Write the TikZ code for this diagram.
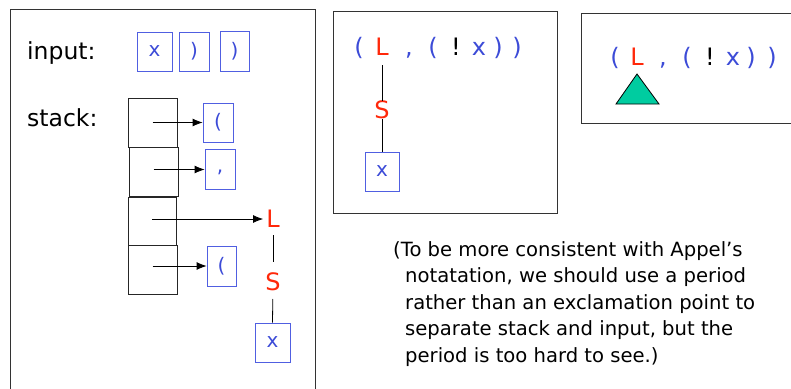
\documentclass[tikz,border=0pt]{standalone}
\usepackage{fontspec}
\setmainfont{DejaVu Sans}
\usetikzlibrary{arrows.meta}
\definecolor{tblue}{RGB}{60,75,215}
\definecolor{bblue}{RGB}{80,95,225}
\definecolor{tred}{RGB}{255,40,10}
\definecolor{teal}{RGB}{0,204,160}
\begin{document}
\begin{tikzpicture}[x=1pt,y=-1pt,
  frame/.style={draw=black!80,line width=0.9pt},
  tokbox/.style={draw=bblue,line width=0.8pt,text=tblue,inner sep=0pt,font=\fontsize{20}{20}\selectfont},
  cell/.style={draw=black!85,line width=0.9pt,minimum width=49pt,minimum height=49pt,inner sep=0pt},
  lbl/.style={font=\fontsize{23.5}{23.5}\selectfont,anchor=west,inner sep=0pt},
  sym/.style={inner sep=0pt,anchor=base,font=\fontsize{24}{24}\selectfont,text=tblue},
  red/.style={text=tred},
  arr/.style={-{Latex[length=10pt,width=8pt]},line width=0.8pt},
  conn/.style={line width=0.8pt}
]
\useasboundingbox (0,0) rectangle (791,388);
% left frame
\draw[frame] (10,9) -- (10,392) (315,392) -- (315,9) -- (10,9);
\node[lbl] (inlbl) at (27,53) {input:};
\node[lbl] (stlbl) at (27,118) {stack:};
\node[tokbox,minimum width=35pt,minimum height=39pt] (i1) at (154.5,51.5) {x};
\node[tokbox,minimum width=30pt,minimum height=39pt] (i2) at (194,51.5) {)};
\node[tokbox,minimum width=29pt,minimum height=40pt] (i3) at (234.5,51) {)};
\node[cell] (s1) at (152.5,122.5) {};
\node[cell] (s2) at (153.5,171.5) {};
\node[cell,minimum width=48pt,minimum height=48pt] (s3) at (152,221) {};
\node[cell] (s4) at (152.5,269.5) {};
\node[tokbox,minimum width=30pt,minimum height=39pt] (p1) at (218,122.5) {(};
\node[tokbox,minimum width=30pt,minimum height=40pt] (p2) at (220,169.5) {\raisebox{-9pt}{,}};
\node[tokbox,minimum width=29pt,minimum height=40pt] (p4) at (221.5,266) {(};
\node[sym,red,anchor=center] (L) at (273,219) {L};
\node[sym,red,anchor=center] (S) at (273,282) {S};
\node[tokbox,minimum width=35pt,minimum height=39pt] (x1) at (272.5,342.5) {x};
\draw[arr] (s1.center |- p1.west) -- (p1.west);
\draw[arr] (s2.center |- p2.west) -- (p2.west);
\draw[arr] (s3.center |- L.west) -- ([xshift=-3pt]L.west);
\draw[arr] (s4.center |- p4.west) -- (p4.west);
\draw[conn,shorten <=16pt,shorten >=20pt] (L.center) -- (S.center);
\draw[conn,shorten <=17pt] (S.center) -- (x1.north);
% middle frame
\node[frame,minimum width=224pt,minimum height=202pt,inner sep=0pt] (mid) at (445,112) {};
\node[sym] (m1) at (359,55) {(};
\node[sym,red] (mL) at (382,55) {L};
\node[sym] (m2) at (409,55) {,};
\node[sym] (m3) at (433,55) {(};
\node[sym,text=black] (m4) at (456,55) {!};
\node[sym] (m5) at (479,55) {x};
\node[sym] (m6) at (498,55) {)};
\node[sym] (m7) at (517,55) {)};
\node[sym,red,anchor=center] (mS) at (382,110) {S};
\node[tokbox,minimum width=34pt,minimum height=39pt] (mx) at (382,171.5) {x};
\draw[conn] (382,65) -- (mS.north);
\draw[conn] (mS.south) -- (mx.north);
% right frame
\draw[frame] (795,13) -- (581,13) -- (581,123) -- (795,123);
\node[sym] (r1) at (615,65) {(};
\node[sym,red] (rL) at (637,65) {L};
\node[sym] (r2) at (663,65) {,};
\node[sym] (r3) at (687,65) {(};
\node[sym,text=black] (r4) at (710,65) {!};
\node[sym] (r5) at (733,65) {x};
\node[sym] (r6) at (751,65) {)};
\node[sym] (r7) at (772,65) {)};
\coordinate (tA) at (637,74);
\coordinate (tB) at (616,104);
\coordinate (tC) at (659,104);
\draw[fill=teal,line width=0.8pt] (tA) -- (tB) -- (tC) -- cycle;
% note
\node[anchor=north west,inner sep=0pt,align=left,font=\fontsize{19.6}{26.6}\selectfont] (note) at (393,241)
{(To be more consistent with Appel’s\\
\hspace*{12pt}notatation, we should use a period\\
\hspace*{12pt}rather than an exclamation point to\\
\hspace*{12pt}separate stack and input, but the\\
\hspace*{12pt}period is too hard to see.)};
\end{tikzpicture}
\end{document}
